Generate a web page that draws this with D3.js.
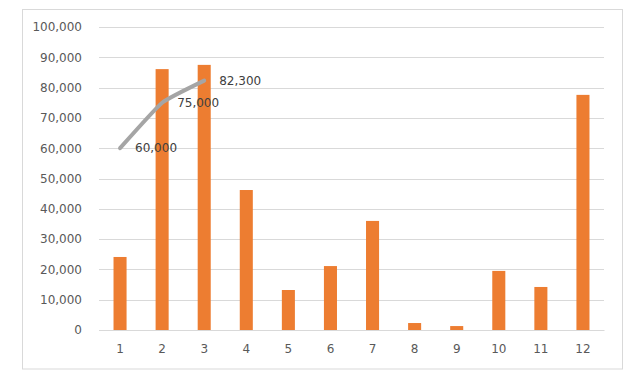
<!DOCTYPE html>
<html><head><meta charset="utf-8">
<script src="https://cdn.jsdelivr.net/npm/d3@7"></script>
<style>body{margin:0;background:#fff}svg{display:block}text{font-family:"DejaVu Sans",sans-serif}</style>
</head><body>
<svg id="c" width="637" height="384"></svg>
<script>
const categories = ["1","2","3","4","5","6","7","8","9","10","11","12"];
const barValues = [24100, 86100, 87500, 46200, 13200, 21100, 36000, 2300, 1300, 19500, 14200, 77600];
const lineCategories = ["1","2","3"];
const lineValues = [60000, 75000, 82300];
const yTicks = [0,10000,20000,30000,40000,50000,60000,70000,80000,90000,100000];

const svg = d3.select("#c");
const m = {left: 99, right: 33, top: 27, bottom: 54};
const x = d3.scaleBand().domain(categories).range([m.left, 604]).paddingInner(0.69).paddingOuter(0.345);
const y = d3.scaleLinear().domain([0, 100000]).range([330, 27]);
const fmt = d3.format(",");

svg.append("rect").attr("x", 22.5).attr("y", 9.5).attr("width", 600).attr("height", 359.5)
  .attr("fill", "#fff").attr("stroke", "#D9D9D9").attr("stroke-width", 1);

const yAxis = svg.append("g").attr("transform", `translate(${m.left},0)`)
  .call(d3.axisLeft(y).tickValues(yTicks).tickFormat(fmt).tickSize(-(604 - m.left)).tickPadding(17));
yAxis.select(".domain").remove();
yAxis.selectAll(".tick line").attr("stroke", "#D9D9D9").attr("shape-rendering", "crispEdges");
yAxis.selectAll(".tick text").attr("fill", "#595959").attr("font-size", 12).attr("font-family", "DejaVu Sans");

svg.selectAll("rect.bar").data(barValues).join("rect").attr("class", "bar")
  .attr("x", (d, i) => x(categories[i])).attr("width", x.bandwidth())
  .attr("y", d => y(d)).attr("height", d => y(0) - y(d)).attr("fill", "#ED7D31");

const xAxis = svg.append("g").attr("transform", `translate(0,${y(0)})`)
  .call(d3.axisBottom(x).tickSize(0).tickPadding(14));
xAxis.select(".domain").attr("stroke", "#D9D9D9");
xAxis.selectAll(".tick text").attr("fill", "#595959").attr("font-size", 12).attr("font-family", "DejaVu Sans");

const cx = c => x(c) + x.bandwidth() / 2;
const line = d3.line().x((d, i) => cx(lineCategories[i])).y(d => y(d)).curve(d3.curveCardinal.tension(0.6));
svg.append("path").datum(lineValues).attr("d", line).attr("fill", "none")
  .attr("stroke", "#A5A5A5").attr("stroke-width", 4).attr("stroke-linecap", "round").attr("stroke-linejoin", "round");

svg.selectAll("text.lbl").data(lineValues).join("text").attr("class", "lbl")
  .attr("x", (d, i) => cx(lineCategories[i]) + 15).attr("y", d => y(d)).attr("dy", "0.35em")
  .attr("fill", "#404040").attr("font-size", 12).text(d => fmt(d));
</script>
</body></html>
